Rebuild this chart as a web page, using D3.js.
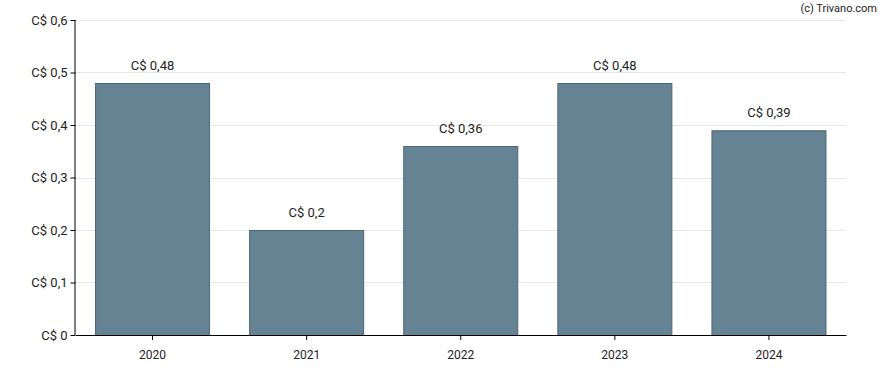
<!DOCTYPE html>
<html><head><meta charset="utf-8">
<script src="https://cdn.jsdelivr.net/npm/d3@7"></script>
<style>body{margin:0;background:#fff;font-family:Roboto,Arial,sans-serif;}</style>
</head><body><svg id="c" width="888" height="370"></svg>
<script>
const categories = ["2020","2021","2022","2023","2024"];
const values = [0.48, 0.2, 0.36, 0.48, 0.39];
const valueLabels = ["C$ 0,48","C$ 0,2","C$ 0,36","C$ 0,48","C$ 0,39"];
const yTicks = [0,0.1,0.2,0.3,0.4,0.5,0.6];
const yTickLabels = ["C$ 0","C$ 0,1","C$ 0,2","C$ 0,3","C$ 0,4","C$ 0,5","C$ 0,6"];

const svg = d3.select("#c");
const m = {l:75.5, r:846, t:20, b:335};
const x = d3.scaleBand().domain(categories).range([m.l, m.r]).paddingInner(0.26).paddingOuter(0.13);
const y = d3.scaleLinear().domain([0,0.6]).range([m.b, m.t]);

svg.append("g").selectAll("line").data(yTicks.slice(1)).join("line")
  .attr("x1", m.l).attr("x2", m.r).attr("y1", d=>Math.round(y(d))+0.5).attr("y2", d=>Math.round(y(d))+0.5)
  .attr("stroke","#e6e6e6").attr("stroke-width",1);

svg.append("g").selectAll("rect").data(values).join("rect")
  .attr("x",(d,i)=>x(categories[i])).attr("width",x.bandwidth())
  .attr("y",d=>y(d)+0.5).attr("height",d=>y(0)-y(d))
  .attr("fill","#668393").attr("stroke","#4d6679").attr("stroke-width",1);

svg.append("g").selectAll("text").data(values).join("text")
  .attr("x",(d,i)=>x(categories[i])+x.bandwidth()/2).attr("y",d=>y(d)-13)
  .attr("text-anchor","middle").attr("font-size",13).attr("fill","#222")
  .text((d,i)=>valueLabels[i]);

const ya = svg.append("g").attr("transform",`translate(${m.l},0)`)
  .call(d3.axisLeft(y).tickValues(yTicks).tickSize(5).tickFormat((d,i)=>yTickLabels[i]));
ya.select(".domain").attr("d",`M-0.5,${m.t}V${m.b}`).attr("stroke","#000");
ya.selectAll(".tick line").attr("stroke","#000");
ya.selectAll("text").attr("font-size",13).attr("font-family","Roboto,Arial,sans-serif").attr("fill","#222").attr("x",-8);

const xa = svg.append("g").attr("transform",`translate(0,${m.b})`)
  .call(d3.axisBottom(x).tickSize(5).tickSizeOuter(0));
xa.select(".domain").attr("stroke","#000");
xa.selectAll(".tick line").attr("stroke","#000");
xa.selectAll("text").attr("font-size",12).attr("font-family","Roboto,Arial,sans-serif").attr("fill","#222").attr("dy","1.3em");

svg.append("text").attr("x",877).attr("y",12).attr("text-anchor","end")
  .attr("font-size",11).attr("fill","#222").text("(c) Trivano.com");
</script></body></html>
